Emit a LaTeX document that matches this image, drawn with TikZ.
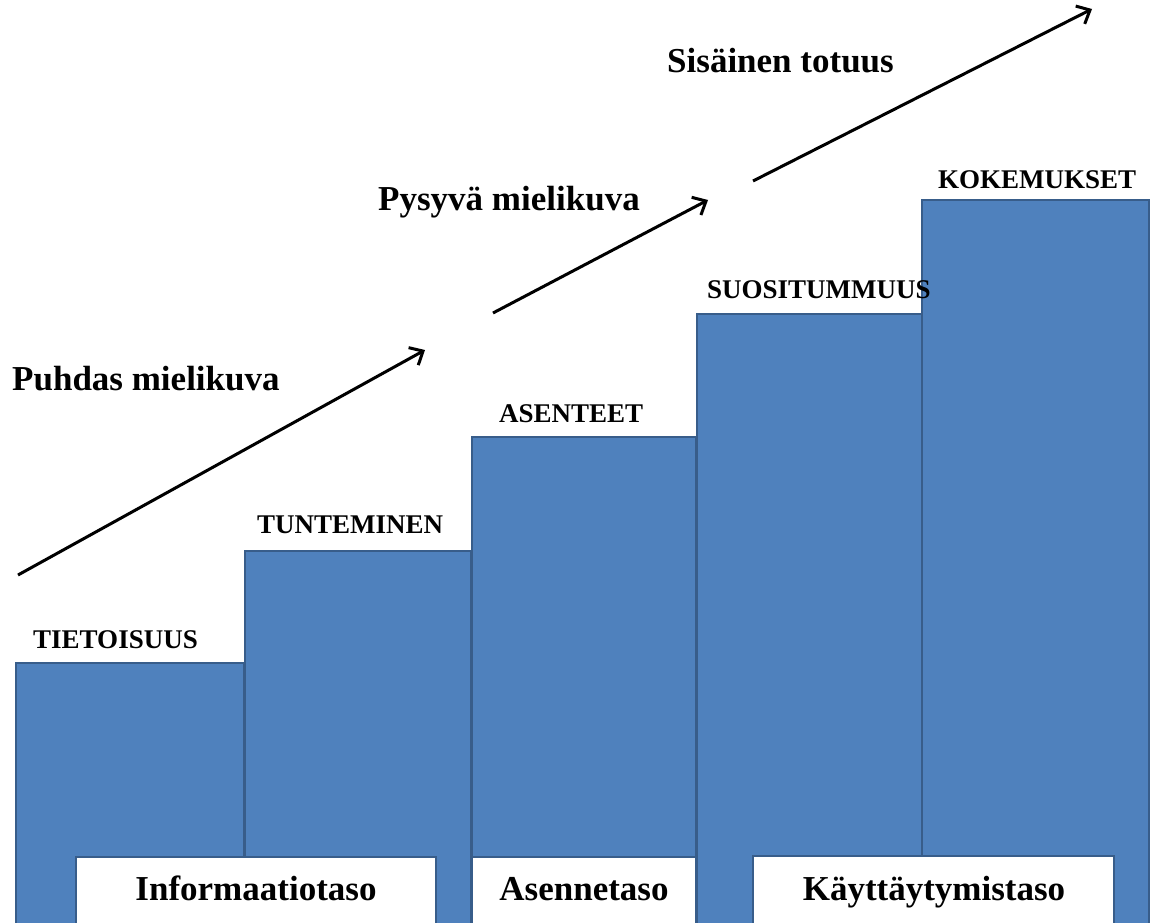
\documentclass[tikz,border=0pt]{standalone}
\usepackage{fontspec}
\setmainfont{Liberation Serif}
\usetikzlibrary{arrows.meta}
\definecolor{barblue}{HTML}{4F81BD}
\definecolor{barline}{HTML}{385D8A}
\begin{document}
\begin{tikzpicture}[x=1pt,y=-1pt,
  bar/.style={fill=barblue,draw=barline,line width=2.2pt},
  levelbox/.style={fill=white,draw=barline,line width=1.5pt},
  head/.style={font=\bfseries\fontsize{27}{30}\selectfont,anchor=base west,inner sep=0pt},
  lab/.style={font=\bfseries\fontsize{35}{40}\selectfont,anchor=base west,inner sep=0pt},
  lvl/.style={font=\bfseries\fontsize{35}{40}\selectfont,anchor=base,inner sep=0pt},
  arr/.style={line width=3pt,-{Straight Barb[length=11pt,width=20pt]}}]
\useasboundingbox (0,0) rectangle (1156,923);
\clip (0,0) rectangle (1156,923);
\fill[white] (0,0) rectangle (1156,923);
% steps
\draw[bar] (16,663) rectangle (244,940);
\draw[bar] (245,551) rectangle (471,940);
\draw[bar] (472,437) rectangle (696,940);
\draw[bar] (697,314) rectangle (922,940);
\draw[bar] (922,200) rectangle (1149,940);
% level boxes
\draw[levelbox] (76,857) rectangle (436,940);
\draw[levelbox] (472,857) rectangle (696,940);
\draw[levelbox] (753,856) rectangle (1114,940);
\node[lvl] (info) at (256,900) {Informaatiotaso};
\node[lvl] (asenne) at (584,900) {Asennetaso};
\node[lvl] (kaytto) at (934,900) {Käyttäytymistaso};
% step headers
\node[head] (tieto) at (33,648) {TIETOISUUS};
\node[head] (tunte) at (257,533) {TUNTEMINEN};
\node[head] (asent) at (499,422) {ASENTEET};
\node[head] (suosi) at (707,298) {SUOSITUMMUUS};
\node[head] (kokem) at (938,188) {KOKEMUKSET};
% arrow labels
\node[lab] (puhdas) at (12,390) {Puhdas mielikuva};
\node[lab] (pysyva) at (378,210) {Pysyvä mielikuva};
\node[lab] (sisain) at (667,73) {Sisäinen totuus};
% arrows
\coordinate (a1s) at (18,575);
\coordinate (a1e) at (425,350);
\coordinate (a2s) at (493,313);
\coordinate (a2e) at (708,200);
\coordinate (a3s) at (753,181);
\coordinate (a3e) at (1092,9);
\draw[arr] (a1s) -- (a1e);
\draw[arr] (a2s) -- (a2e);
\draw[arr] (a3s) -- (a3e);
\end{tikzpicture}
\end{document}
